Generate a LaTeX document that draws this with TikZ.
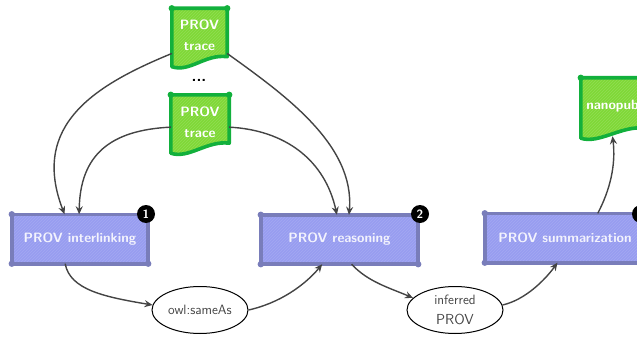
\documentclass[tikz,border=0pt]{standalone}
\usetikzlibrary{arrows.meta,backgrounds,patterns,shapes.geometric}
\definecolor{boxfill}{HTML}{989DF0}
\definecolor{boxline}{HTML}{797DBA}
\definecolor{docfill}{HTML}{7FD836}
\definecolor{docline}{HTML}{12B03C}
\definecolor{linkline}{HTML}{444444}

\begin{document}
\begin{tikzpicture}
[x=1pt, y=-1pt,
% STYLES
% The step style is used to draw the boxes of the pipeline
stepbox/.style={rectangle, inner sep=0pt, minimum height=49pt, text=white!88!boxfill, font=\bfseries\fontsize{13.5}{15}\sffamily},
% The doc style is used to write the text of the green documents
docbox/.style={rectangle, inner sep=0pt, minimum height=54pt, text=white, align=center, font=\bfseries\fontsize{13.5}{21}\sffamily},
% The data style is used to draw the intermediate results
data/.style={ellipse, draw=black, line width=1pt, fill=white, inner sep=0pt, minimum width=96pt, minimum height=47pt, align=center, text=linkline, font=\fontsize{13.5}{20}\sffamily},
% The badge style is used to draw the black numbers
badge/.style={circle, fill=black, inner sep=0pt, minimum size=18pt, text=white, font=\bfseries\fontsize{12}{12}\sffamily},
link/.style={-{Stealth[length=8pt,width=7pt]}, line width=1.4pt, draw=linkline}]

\clip (0,0) rectangle (637,337);

% Draw documents
\node [docbox, minimum width=55pt] (trace1) at (199.5,35.5) {PROV\\trace};
\node [docbox, minimum width=58pt] (trace2) at (200,122) {PROV\\trace};
\node [docbox, minimum width=63pt, minimum height=56pt] (nanopub) at (612.5,106) {nanopub};
\node [font=\bfseries\fontsize{16}{16}\sffamily] (dots) at (199,80) {...};

% Draw steps
\node [stepbox, minimum width=136pt] (interlinking) at (80,239) {PROV interlinking};
\node [stepbox, minimum width=157pt] (reasoning) at (339.5,239.5) {PROV reasoning};
\node [stepbox, minimum width=160pt] (summarization) at (565,238) {PROV summarization};

% Draw results
\node [data] (sameas) at (200,310) {owl:sameAs};
\node [data] (inferred) at (455,310) {inferred\\{\fontsize{14.5}{15}\selectfont PROV}};

% Draw badges
\node [badge] (one) at (146,214) {1};
\node [badge] (two) at (420,214) {2};
\node [badge] (three) at (641,214) {};

% Shapes behind the text
\begin{scope}[on background layer]
\foreach \n in {trace1,trace2,nanopub} {
    \path[preaction={fill=docfill}, pattern=north east lines, pattern color=white!15!docfill, draw=docline, line width=3.6pt, line join=round]
        (\n.north west) -- (\n.north east) -- ([yshift=6pt]\n.south east)
        .. controls +(-22,-3) and +(18,6) .. ([yshift=-4pt]\n.south west) -- cycle;
    \foreach \c in {north west,north east} \fill[docline] (\n.\c) circle (3.2);
}
\foreach \n in {interlinking,reasoning,summarization} {
    \path[preaction={fill=boxfill}, pattern=north east lines, pattern color=white!12!boxfill, draw=boxline, line width=3.6pt]
        (\n.north west) rectangle (\n.south east);
    \foreach \c in {north west,north east,south west,south east} \fill[boxline] (\n.\c) circle (3.2);
}
\end{scope}

% Draw the links
\draw[link] (trace1.213) .. controls (95,85) and (30,125) .. (interlinking.122);
\draw[link] (trace2.190) .. controls (110,130) and (80,155) .. (interlinking.92);
\draw[link] (trace1.327) .. controls (285,95) and (355,145) .. (reasoning.69);
\draw[link] (trace2.350) .. controls (285,130) and (325,160) .. (reasoning.96);
\draw[link] (interlinking.239) .. controls (70,290) and (105,297) .. (sameas.174);
\draw[link] (sameas.east) .. controls (280,303) and (305,285) .. (reasoning.235);
\draw[link] (reasoning.296) .. controls (368,282) and (390,288) .. (inferred.164);
\draw[link] (inferred.6) .. controls (525,300) and (545,280) .. (summarization.253);
\draw[link] (summarization.37) .. controls (610,190) and (616,165) .. ([yshift=-2pt]nanopub.south);

\end{tikzpicture}
\end{document}
